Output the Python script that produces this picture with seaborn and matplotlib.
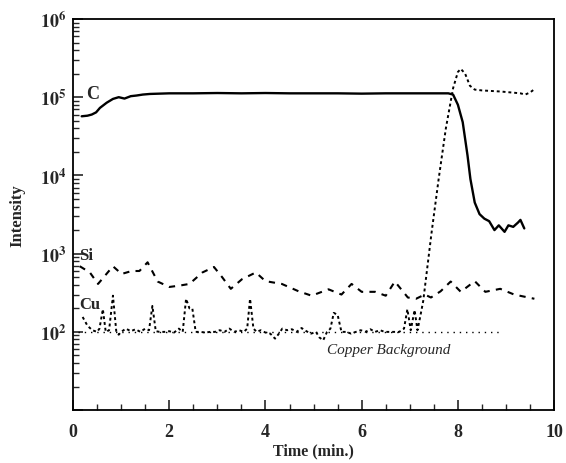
import numpy as np
import pandas as pd
import matplotlib
matplotlib.use("Agg")
import matplotlib.pyplot as plt
import matplotlib.ticker as mticker
import seaborn as sns

# ---- data ----
c_time = [0.18, 0.30, 0.39, 0.48, 0.56, 0.70, 0.83, 0.95, 1.07, 1.20, 1.32, 1.45, 1.60, 2.0, 2.5, 3.0,
          3.5, 4.0, 4.5, 5.0, 5.5, 6.0, 6.5, 7.0, 7.5, 7.8, 7.9, 8.0, 8.1, 8.2, 8.26, 8.35, 8.45,
          8.55, 8.65, 8.76, 8.85, 8.97, 9.05, 9.15, 9.25, 9.30, 9.38]
c_int = [5.7e4, 5.8e4, 6.0e4, 6.4e4, 7.3e4, 8.5e4, 9.5e4, 1.0e5, 9.6e4, 1.03e5, 1.05e5, 1.08e5, 1.1e5,
         1.12e5, 1.12e5, 1.13e5, 1.12e5, 1.13e5, 1.12e5, 1.12e5, 1.12e5, 1.11e5, 1.12e5, 1.12e5, 1.12e5,
         1.12e5, 1.08e5, 8e4, 4.8e4, 1.8e4, 9e3, 4.5e3, 3.2e3, 2.8e3, 2.6e3, 2.0e3, 2.3e3, 1.9e3,
         2.3e3, 2.2e3, 2.5e3, 2.7e3, 2.1e3]

si_time = [0.14, 0.35, 0.52, 0.83, 1.01, 1.22, 1.38, 1.55, 1.76, 2.0, 2.21, 2.42, 2.69, 2.93, 3.1,
           3.28, 3.51, 3.8, 4.0, 4.34, 4.69, 4.96, 5.31, 5.58, 5.79, 6.0, 6.28, 6.5, 6.69, 6.96,
           7.13, 7.31, 7.44, 7.64, 7.85, 8.06, 8.35, 8.57, 8.88, 9.17, 9.59]
si_int = [690, 575, 410, 690, 550, 600, 600, 775, 440, 375, 390, 410, 575, 675, 500, 355, 470, 575,
          445, 410, 330, 290, 350, 300, 410, 325, 325, 290, 440, 275, 265, 300, 275, 330, 440, 325,
          445, 325, 355, 300, 265]

cu_time = [0.2, 0.3, 0.4, 0.5, 0.55, 0.62, 0.68, 0.75, 0.83, 0.9, 0.95, 1.0, 1.1, 1.2, 1.3, 1.4, 1.5,
           1.58, 1.65, 1.72, 1.8, 1.9, 2.0, 2.1, 2.2, 2.28, 2.35, 2.42, 2.48, 2.55, 2.65, 2.75, 2.85,
           2.95, 3.05, 3.15, 3.25, 3.35, 3.45, 3.55, 3.62, 3.68, 3.75, 3.82, 3.9, 4.0, 4.1, 4.2, 4.28,
           4.35, 4.45, 4.55, 4.65, 4.75, 4.85, 4.95, 5.05, 5.12, 5.2, 5.28, 5.35, 5.42, 5.5, 5.58,
           5.68, 5.78, 5.88, 5.98, 6.08, 6.18, 6.28, 6.38, 6.48, 6.58, 6.68, 6.78, 6.88, 6.95, 7.02,
           7.1, 7.16, 7.22, 7.28, 7.45, 7.6, 7.75, 7.9, 8.0, 8.06, 8.15, 8.25, 8.35, 8.5, 8.7, 8.9,
           9.1, 9.3, 9.4, 9.5, 9.58]
cu_int = [155, 120, 105, 100, 110, 195, 100, 105, 290, 100, 92, 100, 110, 102, 108, 100, 110, 105,
          215, 102, 100, 100, 102, 98, 110, 100, 265, 200, 200, 100, 100, 98, 100, 100, 105, 100, 110,
          100, 105, 100, 110, 265, 110, 100, 105, 98, 95, 82, 95, 110, 105, 108, 100, 112, 102, 95,
          100, 85, 78, 100, 110, 175, 165, 100, 100, 95, 100, 105, 100, 108, 100, 105, 100, 100, 100,
          100, 110, 195, 105, 190, 105, 160, 250, 1800, 9000, 4e4, 1.3e5, 2.1e5, 2.3e5, 2.0e5, 1.4e5,
          1.25e5, 1.22e5, 1.2e5, 1.18e5, 1.15e5, 1.12e5, 1.08e5, 1.15e5, 1.25e5]

bg_time = [0.1, 8.85]
bg_int = [100, 100]

x_ticks = [0, 2, 4, 6, 8, 10]
y_labelled = [2, 3, 4, 5, 6]

# ---- style ----
sns.set_style("ticks")
plt.rcParams["font.family"] = ["Liberation Serif", "DejaVu Serif"]
plt.rcParams["font.weight"] = "bold"
plt.rcParams["mathtext.fontset"] = "stix"

fig = plt.figure(figsize=(5.66, 4.64), dpi=100)
ax = fig.add_axes([0.129, 0.114, 0.850, 0.843])

df_c = pd.DataFrame({"t": c_time, "I": c_int})
df_si = pd.DataFrame({"t": si_time, "I": si_int})
df_cu = pd.DataFrame({"t": cu_time, "I": cu_int})
df_bg = pd.DataFrame({"t": bg_time, "I": bg_int})

sns.lineplot(data=df_bg, x="t", y="I", ax=ax, color="black", lw=1.0,
             linestyle=(0, (1, 3.5)), estimator=None, sort=False)
sns.lineplot(data=df_c, x="t", y="I", ax=ax, color="black", lw=1.7, estimator=None, sort=False)
sns.lineplot(data=df_si, x="t", y="I", ax=ax, color="black", lw=1.5,
             linestyle=(0, (3, 3)), estimator=None, sort=False)
sns.lineplot(data=df_cu, x="t", y="I", ax=ax, color="black", lw=1.4,
             linestyle=(0, (1.5, 1.5)), estimator=None, sort=False)

ax.set_yscale("log")
ax.set_ylim(10, 1e6)
ax.set_xlim(0, 10)

ax.set_xticks(x_ticks)
ax.xaxis.set_minor_locator(mticker.MultipleLocator(0.5))
ax.yaxis.set_major_locator(mticker.LogLocator(base=10, numticks=10))
ax.yaxis.set_minor_locator(mticker.LogLocator(base=10, subs=np.arange(2, 10), numticks=20))
ax.yaxis.set_minor_formatter(mticker.NullFormatter())


def yfmt(v, p):
    k = int(round(np.log10(v)))
    return r"$\mathbf{10^{%d}}$" % k if k in y_labelled else ""


ax.yaxis.set_major_formatter(mticker.FuncFormatter(yfmt))

ax.tick_params(axis="both", which="major", direction="in", length=7, width=1.2,
               labelsize=13)
ax.tick_params(axis="both", which="minor", direction="in", length=4, width=1.0)
ax.tick_params(axis="x", which="major", pad=9)
ax.tick_params(axis="y", which="major", pad=5)
for lab in ax.get_xticklabels():
    lab.set_fontweight("bold")

for s in ax.spines.values():
    s.set_linewidth(1.3)
    s.set_color("black")

ax.set_xlabel("Time (min.)", fontsize=11.5, fontweight="bold", labelpad=2)
ax.set_ylabel("Intensity", fontsize=12, fontweight="bold", labelpad=10)

ax.text(0.28, 1.12e5, "C", fontsize=13, fontweight="bold", va="center", ha="left")
ax.text(0.12, 950, "Si", fontsize=12, fontweight="bold", va="center", ha="left")
ax.text(0.12, 230, "Cu", fontsize=12, fontweight="bold", va="center", ha="left")
ax.text(6.56, 60, "Copper Background", fontsize=11, style="italic", fontweight="normal",
        va="center", ha="center")

fig.savefig("out.png", dpi=100)
